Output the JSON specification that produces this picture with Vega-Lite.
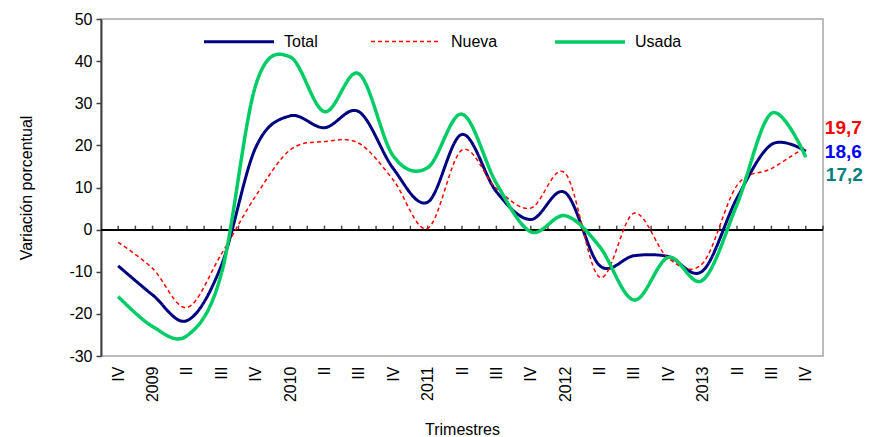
{
  "$schema": "https://vega.github.io/schema/vega-lite/v6.json",
  "width": 722,
  "height": 337,
  "autosize": "none",
  "padding": {"left": 101, "top": 19, "right": 46, "bottom": 81},
  "background": "white",
  "config": {
    "font": "Liberation Sans",
    "locale": {"number": {"decimal": ",", "thousands": ".", "grouping": [3], "currency": ["", " €"], "minus": "-"}},
    "view": {"stroke": "#a6a6a6", "strokeWidth": 1.5},
    "axis": {"grid": false, "labelColor": "black", "titleColor": "black", "labelFontSize": 16, "titleFontSize": 16, "titleFontWeight": "normal"},
    "axisX": {"labelOverlap": false, "labelBound": false, "labelFlush": false}
  },
  "datasets": {
    "series": [
      {"i": 0, "Total": -8.6, "Nueva": -3.0, "Usada": -15.9},
      {"i": 1, "Total": -15.5, "Nueva": -9.2, "Usada": -23.0},
      {"i": 2, "Total": -21.6, "Nueva": -18.5, "Usada": -25.2},
      {"i": 3, "Total": -8.5, "Nueva": -5.8, "Usada": -10.5},
      {"i": 4, "Total": 19.5, "Nueva": 8.0, "Usada": 34.3},
      {"i": 5, "Total": 27.0, "Nueva": 18.9, "Usada": 41.0},
      {"i": 6, "Total": 24.2, "Nueva": 20.9, "Usada": 28.0},
      {"i": 7, "Total": 28.0, "Nueva": 20.5, "Usada": 37.0},
      {"i": 8, "Total": 14.5, "Nueva": 11.8, "Usada": 17.5},
      {"i": 9, "Total": 6.5, "Nueva": 0.3, "Usada": 14.7},
      {"i": 10, "Total": 22.6, "Nueva": 18.9, "Usada": 27.4},
      {"i": 11, "Total": 9.0, "Nueva": 9.8, "Usada": 11.0},
      {"i": 12, "Total": 2.4, "Nueva": 5.1, "Usada": -0.5},
      {"i": 13, "Total": 8.8, "Nueva": 13.4, "Usada": 3.3},
      {"i": 14, "Total": -8.5, "Nueva": -11.3, "Usada": -4.0},
      {"i": 15, "Total": -6.2, "Nueva": 3.9, "Usada": -16.7},
      {"i": 16, "Total": -6.4, "Nueva": -6.8, "Usada": -6.6},
      {"i": 17, "Total": -9.8, "Nueva": -8.0, "Usada": -12.0},
      {"i": 18, "Total": 7.5, "Nueva": 10.5, "Usada": 6.0},
      {"i": 19, "Total": 20.2, "Nueva": 14.5, "Usada": 27.6},
      {"i": 20, "Total": 18.6, "Nueva": 19.7, "Usada": 17.2}
    ],
    "ticks": [
      {"i": 0}, {"i": 0.5}, {"i": 1}, {"i": 1.5}, {"i": 2}, {"i": 2.5}, {"i": 3}, {"i": 3.5},
      {"i": 4}, {"i": 4.5}, {"i": 5}, {"i": 5.5}, {"i": 6}, {"i": 6.5}, {"i": 7}, {"i": 7.5},
      {"i": 8}, {"i": 8.5}, {"i": 9}, {"i": 9.5}, {"i": 10}, {"i": 10.5}, {"i": 11}, {"i": 11.5},
      {"i": 12}, {"i": 12.5}, {"i": 13}, {"i": 13.5}, {"i": 14}, {"i": 14.5}, {"i": 15}, {"i": 15.5},
      {"i": 16}, {"i": 16.5}, {"i": 17}, {"i": 17.5}, {"i": 18}, {"i": 18.5}, {"i": 19}, {"i": 19.5},
      {"i": 20}, {"i": 20.5}
    ]
  },
  "encoding": {
    "x": {
      "field": "i", "type": "quantitative",
      "scale": {"domain": [-0.5, 20.5], "nice": false, "zero": false},
      "axis": {
        "values": [0,1,2,3,4,5,6,7,8,9,10,11,12,13,14,15,16,17,18,19,20],
        "labelExpr": "['IV','2009','II','III','IV','2010','II','III','IV','2011','II','III','IV','2012','II','III','IV','2013','II','III','IV'][datum.value]",
        "labelAngle": -90, "labelPadding": 10, "labelOverlap": false, "domain": false, "ticks": false,
        "title": "Trimestres", "titlePadding": 20
      }
    }
  },
  "layer": [
    {
      "data": {"name": "ticks"},
      "mark": {"type": "rule", "color": "black", "strokeWidth": 1.5},
      "encoding": {"x": null, "y": {"datum": 0, "type": "quantitative", "scale": {"domain": [-30, 50], "nice": false, "zero": false}}}
    },
    {
      "data": {"name": "ticks"},
      "mark": {"type": "tick", "orient": "vertical", "color": "black", "size": 4, "thickness": 1.5, "yOffset": -2},
      "encoding": {
        "y": {"datum": 0, "type": "quantitative"}
      }
    },
    {
      "data": {"name": "series"},
      "transform": [{"fold": ["Total", "Nueva", "Usada"], "as": ["serie", "v"]}],
      "mark": {"type": "line", "interpolate": "cardinal"},
      "encoding": {
        "y": {
          "field": "v", "type": "quantitative",
          "scale": {"domain": [-30, 50], "nice": false, "zero": false},
          "axis": {
            "values": [-30, -20, -10, 0, 10, 20, 30, 40, 50], "format": "d",
            "tickSize": 5, "tickColor": "#404040", "tickWidth": 1.5,
            "domainColor": "#404040", "domainWidth": 2, "labelPadding": 4,
            "title": "Variación porcentual", "titlePadding": 34
          }
        },
        "color": {
          "field": "serie", "type": "nominal",
          "scale": {"domain": ["Total", "Nueva", "Usada"], "range": ["#000080", "#ff0000", "#00cc66"]},
          "legend": {
            "title": null, "orient": "none", "legendX": 101, "legendY": -14, "direction": "horizontal", "columns": 3,
            "symbolType": "stroke", "symbolSize": 4900, "labelFontSize": 16, "labelColor": "black",
            "columnPadding": 50, "labelOffset": 8, "padding": 0
          }
        },
        "strokeDash": {
          "field": "serie", "type": "nominal",
          "scale": {"domain": ["Total", "Nueva", "Usada"], "range": [[1, 0], [4, 3], [1, 0]]}
        },
        "strokeWidth": {
          "field": "serie", "type": "nominal",
          "scale": {"type": "ordinal", "domain": ["Total", "Nueva", "Usada"], "range": [3, 1.5, 3.5]}
        }
      }
    },
    {
      "data": {"name": "series"},
      "transform": [{"filter": "datum.i == 20"}],
      "mark": {"type": "text", "align": "left", "baseline": "middle", "fontSize": 19, "fontWeight": "bold", "color": "#ff0000", "dx": 19, "yOffset": -19},
      "encoding": {"y": {"field": "Nueva", "type": "quantitative"}, "text": {"field": "Nueva", "type": "quantitative", "format": ".1f"}}
    },
    {
      "data": {"name": "series"},
      "transform": [{"filter": "datum.i == 20"}],
      "mark": {"type": "text", "align": "left", "baseline": "middle", "fontSize": 19, "fontWeight": "bold", "color": "#0000ff", "dx": 19, "yOffset": 1},
      "encoding": {"y": {"field": "Total", "type": "quantitative"}, "text": {"field": "Total", "type": "quantitative", "format": ".1f"}}
    },
    {
      "data": {"name": "series"},
      "transform": [{"filter": "datum.i == 20"}],
      "mark": {"type": "text", "align": "left", "baseline": "middle", "fontSize": 19, "fontWeight": "bold", "color": "#008080", "dx": 20, "yOffset": 18},
      "encoding": {"y": {"field": "Usada", "type": "quantitative"}, "text": {"field": "Usada", "type": "quantitative", "format": ".1f"}}
    }
  ]
}
